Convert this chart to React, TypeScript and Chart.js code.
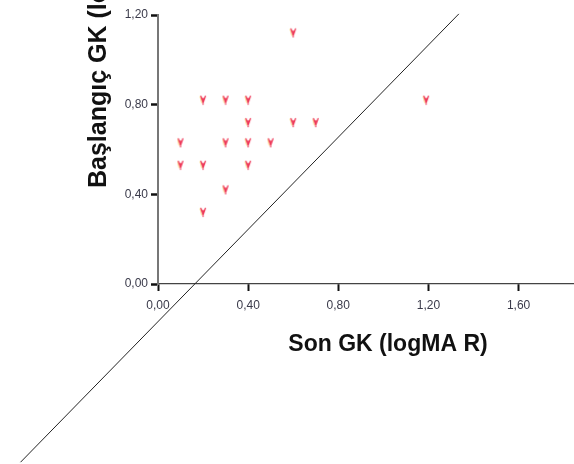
import React, { useEffect, useRef } from "react";
import { Chart, registerables } from "chart.js";

Chart.register(...registerables);

// Scatter data: Son GK (x) vs Başlangıç GK (y), logMAR
const sonGK = [0.1, 0.1, 0.2, 0.2, 0.2, 0.3, 0.3, 0.3, 0.4, 0.4, 0.4, 0.4, 0.5, 0.6, 0.6, 0.7, 1.19];
const baslangicGK = [0.63, 0.53, 0.82, 0.53, 0.32, 0.82, 0.63, 0.42, 0.82, 0.72, 0.63, 0.53, 0.63, 1.12, 0.72, 0.72, 0.82];

// Reference line endpoints (extends beyond the plot)
const lineX = [-0.61, 1.335];
const lineY = [-0.795, 1.205];

const xTicks = [0, 0.4, 0.8, 1.2, 1.6];
const yTicks = [0, 0.4, 0.8, 1.2];

const xTitle = "Son GK (logMA R)";
const yTitle = "Başlangıç GK (logMAR)";

const FONT = "'Liberation Sans', Arial, Helvetica, sans-serif";

function makeMarker(): HTMLCanvasElement {
  const c = document.createElement("canvas");
  c.width = 8;
  c.height = 11;
  const ctx = c.getContext("2d")!;
  ctx.lineCap = "round";
  ctx.strokeStyle = "rgba(250,200,80,0.7)";
  ctx.lineWidth = 1;
  ctx.beginPath();
  ctx.moveTo(1, 2);
  ctx.lineTo(2.5, 8);
  ctx.stroke();
  ctx.strokeStyle = "#ee3a5a";
  ctx.lineWidth = 1.3;
  ctx.beginPath();
  ctx.moveTo(1.8, 1.5);
  ctx.lineTo(4, 8);
  ctx.lineTo(6.3, 1.5);
  ctx.moveTo(4, 3.5);
  ctx.lineTo(4, 9.5);
  ctx.stroke();
  return c;
}

const fmt = (v: number) => v.toFixed(2).replace(".", ",");

export default function App() {
  const ref = useRef<HTMLCanvasElement | null>(null);

  useEffect(() => {
    if (!ref.current) return;
    const marker = makeMarker();

    const titlePlugin = {
      id: "axisTitles",
      afterDraw(chart: any) {
        const ctx = chart.ctx as CanvasRenderingContext2D;
        ctx.save();
        ctx.fillStyle = "#111";
        ctx.font = `bold 23px ${FONT}`;
        ctx.textAlign = "center";
        ctx.textBaseline = "middle";
        ctx.fillText(xTitle, 388, 345);
        ctx.translate(106, 188);
        ctx.rotate(-Math.PI / 2);
        ctx.font = `bold 25px ${FONT}`;
        ctx.textAlign = "left";
        ctx.textBaseline = "alphabetic";
        ctx.fillText(yTitle, 0, 0);
        ctx.restore();
      },
    };

    const chart = new Chart(ref.current, {
      type: "scatter",
      data: {
        datasets: [
          {
            data: sonGK.map((x, i) => ({ x, y: baslangicGK[i] })),
            pointStyle: marker as any,
            pointRadius: 5,
            borderColor: "#ee3a5a",
            backgroundColor: "#ee3a5a",
          },
          {
            data: lineX.map((x, i) => ({ x, y: lineY[i] })),
            showLine: true,
            borderColor: "#222",
            borderWidth: 1,
            pointRadius: 0,
            clip: false as any,
          },
        ],
      },
      options: {
        animation: false,
        responsive: false,
        devicePixelRatio: 1,
        layout: { padding: { top: 15, right: 0, bottom: 0, left: 0 } },
        plugins: {
          legend: { display: false },
          tooltip: { enabled: false },
        },
        scales: {
          x: {
            type: "linear",
            min: 0,
            max: 1.846,
            afterFit: (s: any) => {
              s.height = 180;
            },
            afterBuildTicks: (s: any) => {
              s.ticks = xTicks.map((v) => ({ value: v }));
            },
            grid: {
              drawOnChartArea: false,
              tickLength: 7,
              tickWidth: 2,
              tickColor: "#111",
            },
            border: { display: true, color: "#444", width: 1.2 },
            ticks: {
              padding: 7,
              color: "#3a3a4a",
              font: { family: FONT, size: 12 },
              callback: (v: any) => fmt(Number(v)),
              maxRotation: 0,
              autoSkip: false,
            },
          },
          y: {
            type: "linear",
            min: 0,
            max: 1.2,
            afterFit: (s: any) => {
              s.width = 158;
            },
            afterBuildTicks: (s: any) => {
              s.ticks = yTicks.map((v) => ({ value: v }));
            },
            grid: {
              drawOnChartArea: false,
              tickLength: 7,
              tickWidth: 2.5,
              tickColor: "#111",
            },
            border: { display: true, color: "#777", width: 2 },
            ticks: {
              padding: 3,
              color: "#3a3a4a",
              font: { family: FONT, size: 12 },
              callback: (v: any) => fmt(Number(v)),
              autoSkip: false,
            },
          },
        },
      },
      plugins: [titlePlugin],
    });

    return () => chart.destroy();
  }, []);

  return (
    <div style={{ position: "fixed", left: 0, top: 0, width: 574, height: 464, background: "#fff", overflow: "hidden" }}>
      <canvas ref={ref} width={580} height={464} style={{ display: "block" }} />
    </div>
  );
}
